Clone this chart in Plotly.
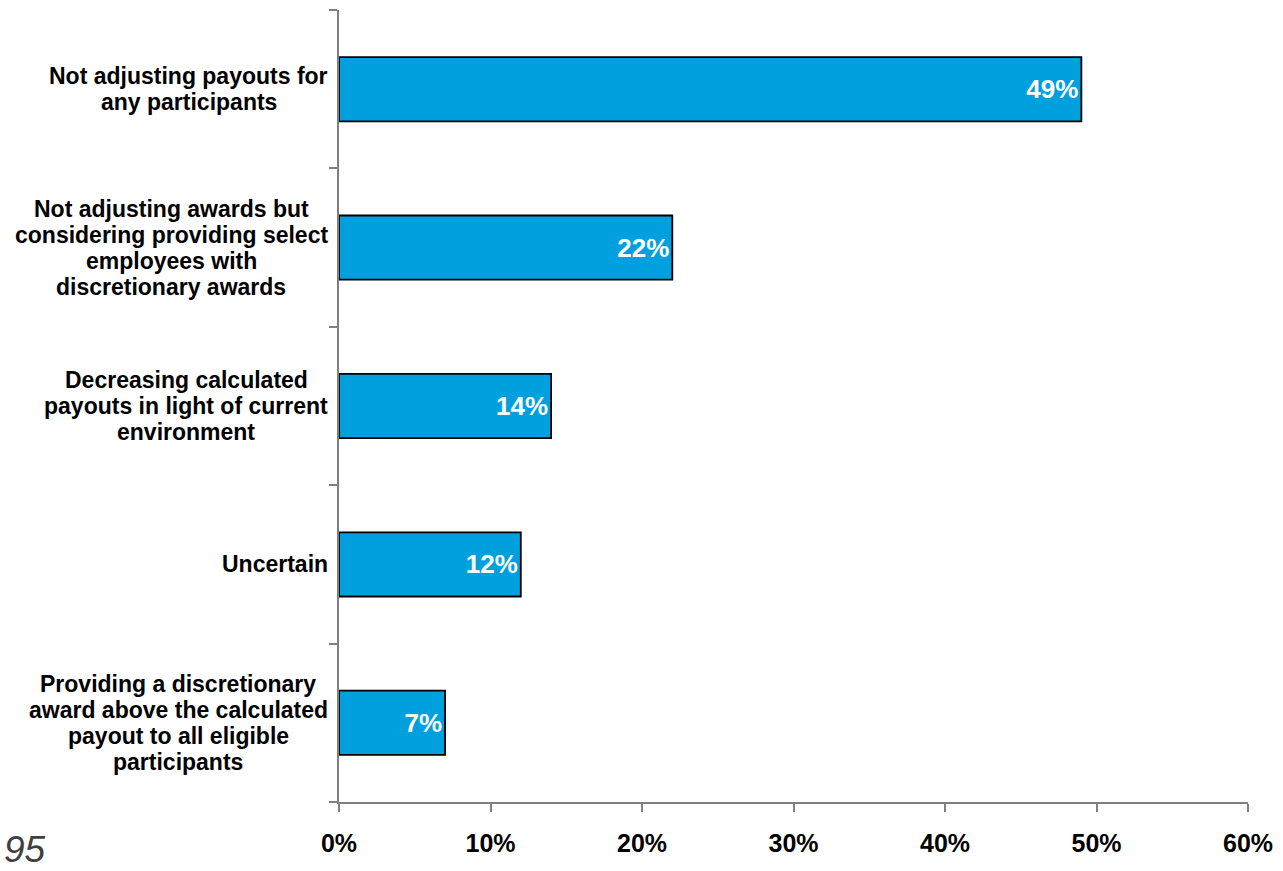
import plotly.graph_objects as go

# Survey responses, listed top to bottom
categories = [
    "Not adjusting payouts for<br>any participants",
    "Not adjusting awards but<br>considering providing select<br>employees with<br>discretionary awards",
    "Decreasing calculated<br>payouts in light of current<br>environment",
    "Uncertain",
    "Providing a discretionary<br>award above the calculated<br>payout to all eligible<br>participants",
]
values = [49, 22, 14, 12, 7]
x_ticks = [0, 10, 20, 30, 40, 50, 60]
x_tick_labels = ["0%", "10%", "20%", "30%", "40%", "50%", "60%"]
page_number = "95"

BAR_BLUE = "#00A0DF"
AXIS_GREY = "#808080"
FONT = "Arial, Liberation Sans, sans-serif"
LABEL_SIZE = 23
LABEL_LINE_HEIGHT = 26
LABEL_GAP = 11

# Bold sans advance widths (1/1000 em), used to right-align each label block
_BOLD_WIDTHS = {
    "a": 556, "b": 611, "c": 556, "d": 611, "e": 556, "f": 333, "g": 611,
    "h": 611, "i": 278, "j": 278, "k": 556, "l": 278, "m": 889, "n": 611,
    "o": 611, "p": 611, "q": 611, "r": 389, "s": 556, "t": 333, "u": 611,
    "v": 556, "w": 778, "x": 556, "y": 556, "z": 500, " ": 278,
    "N": 722, "P": 667, "D": 722, "U": 722,
}


def text_width(s, size):
    return sum(_BOLD_WIDTHS.get(ch, 600) for ch in s) * size / 1000.0


fig = go.Figure(
    go.Bar(
        x=values,
        y=categories,
        orientation="h",
        marker=dict(color=BAR_BLUE, line=dict(color="#000000", width=1.8)),
        text=[f"{v}%" for v in values],
        textposition="inside",
        insidetextanchor="end",
        textfont=dict(family=FONT, size=26, color="white", weight="bold"),
        cliponaxis=False,
        hoverinfo="skip",
    )
)

# Category labels: block right-aligned to the axis, each line centred in it
for cat in categories:
    lines = cat.split("<br>")
    n = len(lines)
    block_w = max(text_width(line, LABEL_SIZE) for line in lines)
    for i, line in enumerate(lines):
        fig.add_annotation(
            x=0, xref="paper", y=cat, yref="y",
            text=line, showarrow=False,
            xanchor="center", yanchor="middle", align="center",
            xshift=-LABEL_GAP - block_w / 2,
            yshift=((n - 1) / 2 - i) * LABEL_LINE_HEIGHT,
            font=dict(family=FONT, size=LABEL_SIZE, color="#000000", weight="bold"),
        )

# Page number in the lower-left corner of the page
fig.add_annotation(
    x=-0.366, xref="paper", y=-0.06, yref="paper",
    text=f"<i>{page_number}</i>", showarrow=False,
    xanchor="left", yanchor="middle", xshift=-4,
    font=dict(family=FONT, size=37, color="#404040"),
)

fig.update_xaxes(
    range=[0, 60],
    tickvals=x_ticks,
    ticktext=x_tick_labels,
    showgrid=False,
    zeroline=False,
    showline=True,
    linecolor=AXIS_GREY,
    linewidth=1.5,
    ticks="outside",
    ticklen=8,
    tickwidth=1.5,
    tickcolor=AXIS_GREY,
    ticklabelstandoff=10,
    tickfont=dict(family=FONT, size=25, color="#000000", weight="bold"),
)

fig.update_yaxes(
    categoryorder="array",
    categoryarray=categories[::-1],
    tickson="boundaries",
    showticklabels=False,
    showgrid=False,
    zeroline=False,
    showline=True,
    linecolor=AXIS_GREY,
    linewidth=1.5,
    ticks="outside",
    ticklen=8,
    tickwidth=1.5,
    tickcolor=AXIS_GREY,
)

fig.update_layout(
    width=1283,
    height=871,
    margin=dict(l=339, r=32, t=10, b=69),
    paper_bgcolor="white",
    plot_bgcolor="white",
    bargap=0.595,
    showlegend=False,
    font=dict(family=FONT),
)

fig.write_html("out.html")
